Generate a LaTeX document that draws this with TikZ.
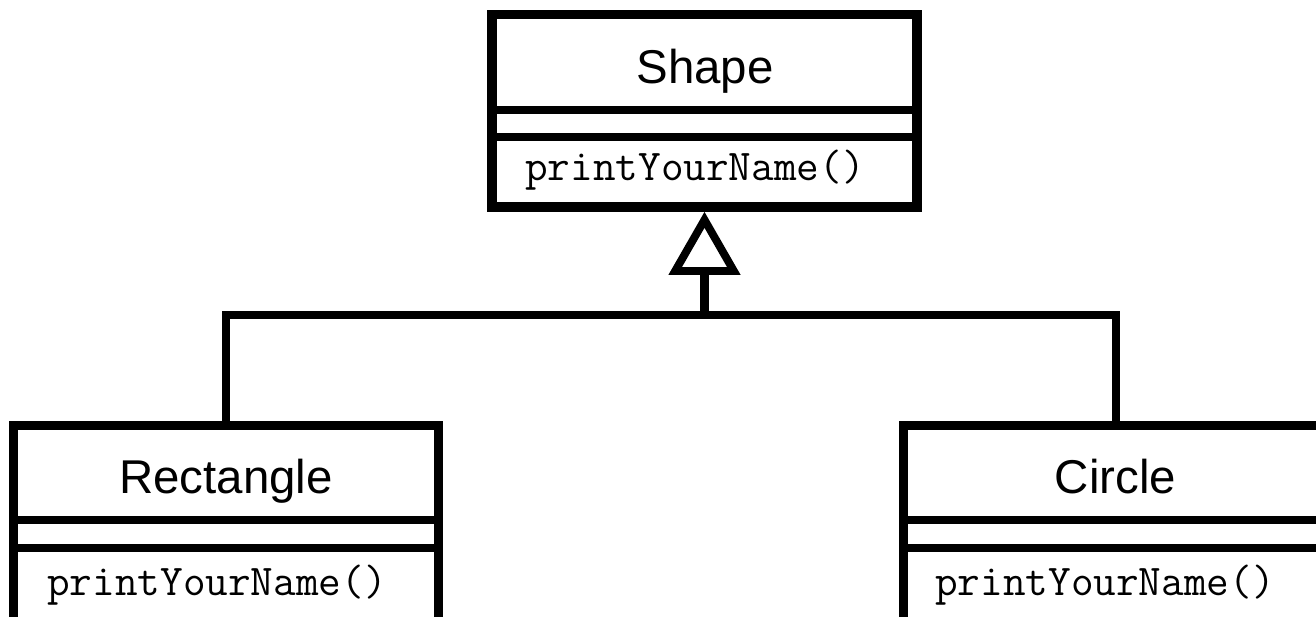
\documentclass[tikz,border=0pt]{standalone}
\usepackage{fontspec}
\setmainfont{Liberation Sans}
\usetikzlibrary{arrows.meta}

\begin{document}
\begin{tikzpicture}[x=0.02cm,y=-0.02cm,
  classbox/.style={draw,line width=5.4pt,minimum width=8.5cm,inner sep=0pt},
  sep/.style={line width=5pt},
  classname/.style={font=\fontsize{27}{32}\selectfont,anchor=base,inner sep=0pt},
  method/.style={font=\ttfamily\fontsize{25}{29}\selectfont,anchor=base west,inner sep=0pt},
  link/.style={line width=5pt}]
\useasboundingbox (0,0) rectangle (1316,616);

% class boxes
\node[classbox,minimum height=3.85cm] (shape) at (704.5,110.75) {};
\node[classbox,minimum height=4.2cm] (rect) at (226,530.5) {};
\node[classbox,minimum height=4.2cm] (circ) at (1116,530.5) {};

% compartments
\draw[sep] (492,110) -- (917,110);
\draw[sep] (492,137) -- (917,137);
\draw[sep] (14,520) -- (438,520);
\draw[sep] (14,548) -- (438,548);
\draw[sep] (904,520) -- (1328,520);
\draw[sep] (904,548) -- (1328,548);

% class names
\node[classname] (shapename) at (705,83) {Shape};
\node[classname] (rectname) at (226,493) {Rectangle};
\node[classname] (circname) at (1115.5,493) {Circle};

% operations
\node[method] (shapeop) at (525,180) {printYourName()};
\node[method] (rectop) at (47,595) {printYourName()};
\node[method] (circop) at (935,595) {printYourName()};

% inheritance
\coordinate (join) at (704.5,315);
\draw[link] (rect.north) |- (join) -| (circ.north);
\draw[link,-{Triangle[open,length=36pt,width=40pt,line width=4.5pt]}] (join) -- (shape.south);
\end{tikzpicture}
\end{document}
